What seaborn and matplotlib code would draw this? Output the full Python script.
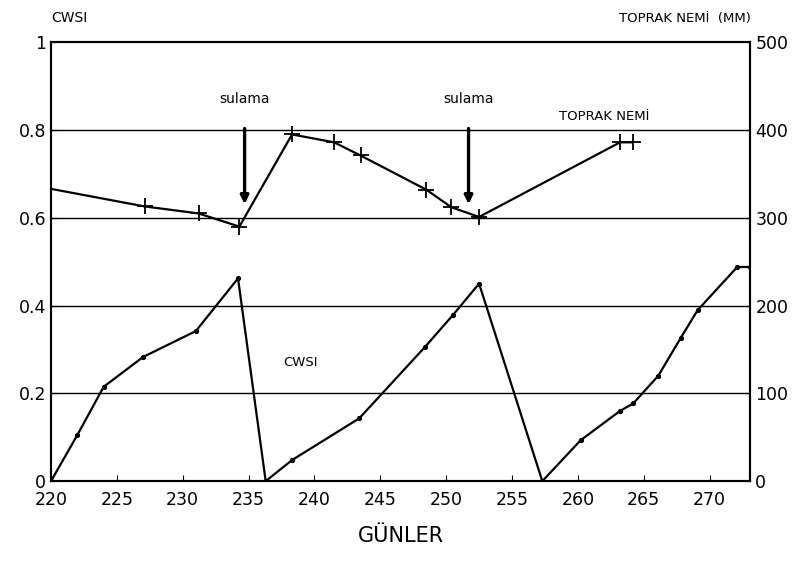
import pandas as pd
import matplotlib
matplotlib.use("Agg")
import matplotlib.pyplot as plt
import seaborn as sns

# CWSI values
cwsi_days = [220, 222, 224, 227, 231, 234.2, 236.3, 238.3, 243.4, 248.4, 250.5,
             252.5, 257.3, 260.2, 263.2, 264.2, 266.1, 267.8, 269.1, 272.1, 273.1]
cwsi_vals = [0.0, 0.105, 0.215, 0.283, 0.342, 0.462, 0.0, 0.048, 0.143, 0.306, 0.378,
             0.45, 0.0, 0.093, 0.16, 0.177, 0.24, 0.326, 0.39, 0.488, 0.488]

# soil moisture (mm), right axis
soil_days = [220, 227.1, 231.2, 234.3, 238.3, 241.5, 243.5, 248.5, 250.4, 252.5, 263.2, 264.2]
soil_vals = [333, 313, 305, 290, 395, 386, 371, 332, 312, 301, 386, 386]

# irrigation days
sulama_days = [234.7, 251.7]

left_ticks = [0, 0.2, 0.4, 0.6, 0.8, 1]
left_labels = ["0", "0.2", "0.4", "0.6", "0.8", "1"]
right_ticks = [0, 100, 200, 300, 400, 500]
x_ticks = [220, 225, 230, 235, 240, 245, 250, 255, 260, 265, 270]

cwsi_df = pd.DataFrame({"gun": cwsi_days, "cwsi": cwsi_vals})
soil_df = pd.DataFrame({"gun": soil_days, "nem": soil_vals})

sns.set_style("ticks")
plt.rcParams["font.family"] = ["DejaVu Sans"]
plt.rcParams["text.color"] = "black"
plt.rcParams["xtick.color"] = "black"
plt.rcParams["ytick.color"] = "black"
plt.rcParams["axes.edgecolor"] = "black"
plt.rcParams["axes.labelcolor"] = "black"

fig = plt.figure(figsize=(8.04, 5.79), dpi=100)
ax = fig.add_axes([0.0634, 0.169, 0.870, 0.758])

sns.lineplot(data=cwsi_df, x="gun", y="cwsi", ax=ax, color="black", lw=1.6,
             marker="o", markersize=3, markeredgecolor="black",
             estimator=None, sort=False)
ax.set_xlim(220, 273.1)
ax.set_ylim(0, 1)
for y in [0.2, 0.4, 0.6, 0.8]:
    ax.axhline(y, color="black", lw=1.0, zorder=0)

ax2 = ax.twinx()
sns.lineplot(data=soil_df, x="gun", y="nem", ax=ax2, color="black", lw=1.6,
             marker="+", markersize=11, markeredgewidth=1.3, markeredgecolor="black",
             markevery=list(range(1, len(soil_days))), estimator=None, sort=False)
ax2.set_ylim(0, 500)

ax.set_xticks(x_ticks)
ax.set_yticks(left_ticks)
ax.set_yticklabels(left_labels)
ax2.set_yticks(right_ticks)
for a in (ax, ax2):
    a.tick_params(direction="in", labelsize=12.5, length=4)
    for s in a.spines.values():
        s.set_linewidth(1.5)
ax.tick_params(axis="x", pad=7)
ax.set_xlabel("GÜNLER", fontsize=15, labelpad=12)
ax.set_ylabel("")
ax2.set_ylabel("")

# irrigation arrows
for d in sulama_days:
    ax.annotate("", xy=(d, 0.625), xytext=(d, 0.81),
                arrowprops=dict(arrowstyle="-|>", color="black", lw=2.4, mutation_scale=12))
    ax.text(d, 0.855, "sulama", ha="center", va="bottom", fontsize=10)

ax.text(262, 0.815, "TOPRAK NEMİ", ha="center", va="bottom", fontsize=9.5)
ax.text(237.6, 0.27, "CWSI", ha="left", va="center", fontsize=9.5)
ax.text(0.0, 1.04, "CWSI", transform=ax.transAxes, ha="left", va="bottom", fontsize=10)
ax.text(1.0, 1.04, "TOPRAK NEMİ  (MM)", transform=ax.transAxes, ha="right",
        va="bottom", fontsize=9.5)

fig.savefig("out.png", dpi=100)
